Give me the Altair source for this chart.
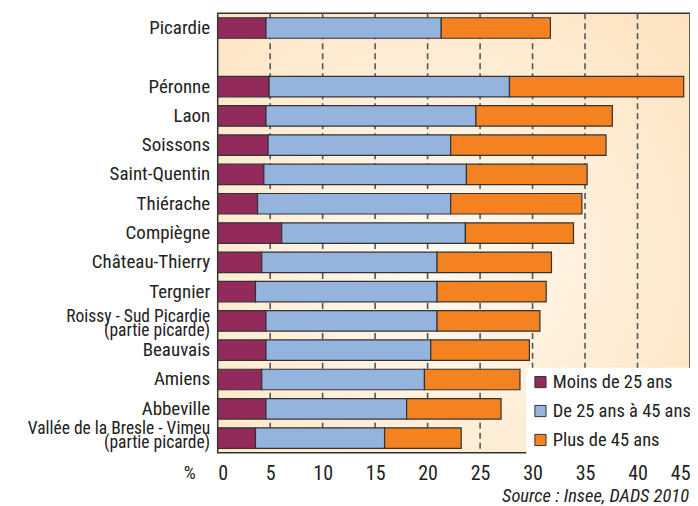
import altair as alt
import pandas as pd

zones = ["Picardie", " ", "Péronne", "Laon", "Soissons", "Saint-Quentin", "Thiérache",
         "Compiègne", "Château-Thierry", "Tergnier",
         "Roissy - Sud Picardie\n(partie picarde)", "Beauvais", "Amiens ", "Abbeville",
         "Vallée de la Bresle - Vimeu\n(partie picarde)"]
data_zones = [z for z in zones if z != " "]
moins = [4.6, 4.9, 4.6, 4.8, 4.4, 3.8, 6.1, 4.2, 3.6, 4.6, 4.6, 4.2, 4.6, 3.6]
de25_45 = [16.7, 22.9, 20.0, 17.4, 19.3, 18.4, 17.5, 16.7, 17.3, 16.3, 15.7, 15.5, 13.4, 12.3]
plus45 = [10.4, 16.6, 13.0, 14.8, 11.5, 12.5, 10.3, 10.9, 10.4, 9.8, 9.4, 9.1, 9.0, 7.3]
series = ["Moins de 25 ans", "De 25 ans à 45 ans", "Plus de 45 ans"]
colors = ["#922b5b", "#94b4dd", "#f58220"]
grid_ticks = [5, 10, 15, 20, 25, 30, 35, 40]
x_ticks = [0, 5, 10, 15, 20, 25, 30, 35, 40, 45]

rows = []
for i, z in enumerate(data_zones):
    for k, vals in enumerate([moins, de25_45, plus45]):
        rows.append({"zone": z, "serie": series[k], "ordre": k, "valeur": vals[i]})
df = pd.DataFrame(rows)

FONT = "Liberation Sans Narrow, Arial Narrow, Roboto Condensed, DejaVu Sans Condensed, sans-serif"
W, H = 473, 440

bg = alt.Chart(pd.DataFrame({"a": [0]})).mark_rect(
    fill=alt.RadialGradient(
        gradient="radial", x1=0.45, y1=0.55, x2=0.45, y2=0.55, r1=0, r2=0.75,
        stops=[alt.GradientStop(offset=0, color="#fffaf3"),
               alt.GradientStop(offset=1, color="#fde2bd")]),
    stroke="#333333", strokeWidth=1.5
).encode(x=alt.value(0), x2=alt.value(W), y=alt.value(0), y2=alt.value(H))

grid = alt.Chart(pd.DataFrame({"g": grid_ticks})).mark_rule(
    color="#555555", strokeWidth=1.6, strokeDash=[6, 4]
).encode(x=alt.X("g:Q", scale=alt.Scale(domain=[0, 45], nice=False)))

bars = alt.Chart(df).mark_bar(stroke="#333333", strokeWidth=1.2).encode(
    y=alt.Y("zone:N", sort=zones,
            scale=alt.Scale(domain=zones, paddingInner=0.3, paddingOuter=0.15),
            axis=alt.Axis(title=None, ticks=False, domain=False, labelPadding=8,
                          labelFontSize={"expr": "indexof(datum.value, '\\n') >= 0 ? 17.5 : 19"},
                          labelFont=FONT, labelColor="#222222",
                          labelLineHeight=14, labelLimit=300,
                          labelOffset={"expr": "indexof(datum.value, 'Vall') == 0 ? -9 : (indexof(datum.value, 'Roissy') == 0 ? -4 : 0)"},
                          labelExpr="split(datum.label, '\\n')")),
    x=alt.X("valeur:Q", stack="zero",
            scale=alt.Scale(domain=[0, 45], nice=False),
            axis=alt.Axis(title=None, values=x_ticks, ticks=False, domain=False,
                          grid=False, labelPadding=11, labelFontSize=20,
                          labelFont=FONT, labelColor="#222222")),
    color=alt.Color("serie:N", sort=series,
                    scale=alt.Scale(domain=series, range=colors),
                    legend=alt.Legend(title=None, orient="none", legendX=309, legendY=355,
                                      fillColor="white", padding=5, symbolType="square",
                                      symbolSize=125, symbolStrokeColor="#333333",
                                      symbolStrokeWidth=1, labelFontSize=18.5,
                                      labelFont=FONT, labelColor="#222222",
                                      rowPadding=10, labelOffset=3, labelLimit=200)),
    order=alt.Order("ordre:Q"),
)

pct = alt.Chart(pd.DataFrame({"t": ["%"]})).mark_text(
    fontSize=19, font=FONT, color="#222222", align="center", baseline="middle"
).encode(text="t:N", x=alt.value(-28), y=alt.value(460))

source = alt.Chart(pd.DataFrame({"t": ["Source : Insee, DADS 2010"]})).mark_text(
    fontSize=18.5, font=FONT, fontStyle="italic", color="#222222", align="right",
    baseline="middle"
).encode(text="t:N", x=alt.value(W - 1), y=alt.value(483))

chart = alt.layer(bg, grid, bars, pct, source).properties(
    width=W, height=H,
    autosize=alt.AutoSizeParams(type="none"),
    padding={"left": 210, "top": 5, "right": 0, "bottom": 55},
).configure_view(stroke=None)

chart.save("out.html", embed_options={"renderer": "svg", "actions": False})
